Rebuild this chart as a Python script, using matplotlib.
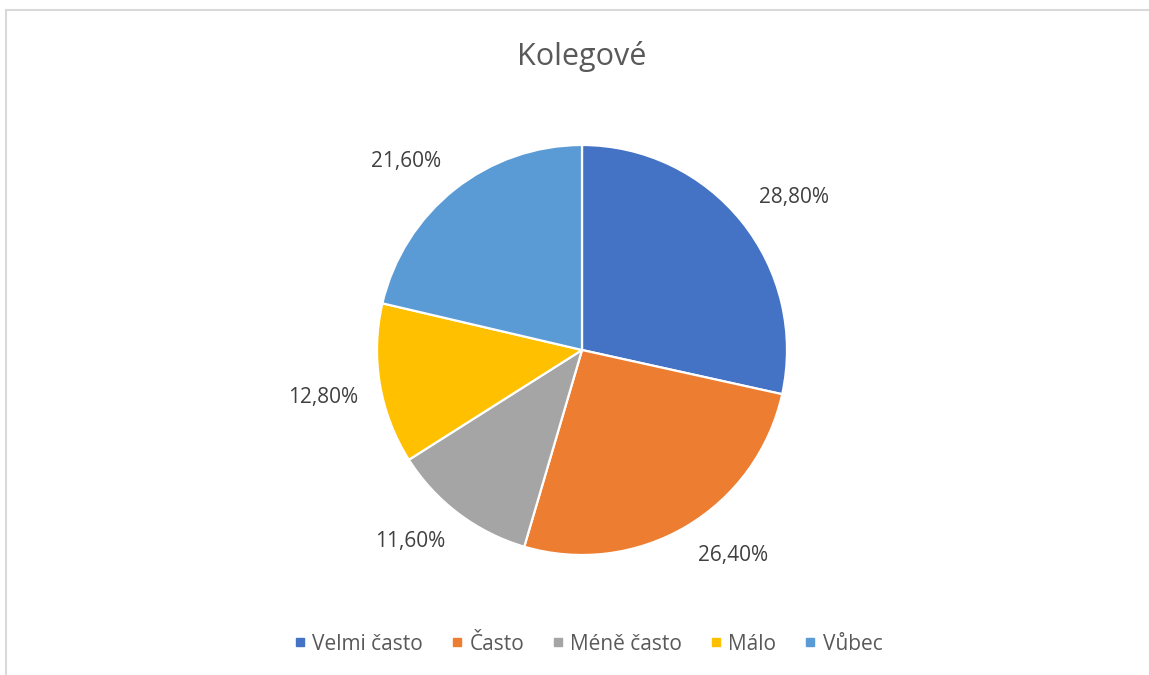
import numpy as np
import matplotlib
matplotlib.use("Agg")
import matplotlib.pyplot as plt
from matplotlib.lines import Line2D

categories = ["Velmi často", "Často", "Méně často", "Málo", "Vůbec"]
values = [28.8, 26.4, 11.6, 12.8, 21.6]
labels = ["28,80%", "26,40%", "11,60%", "12,80%", "21,60%"]
colors = ["#4472C4", "#ED7D31", "#A5A5A5", "#FFC000", "#5B9BD5"]
title = "Kolegové"

plt.rcParams['font.family'] = ['Open Sans', 'DejaVu Sans']

W, H = 1149, 675
fig = plt.figure(figsize=(W / 100, H / 100), dpi=100)
fig.patch.set_facecolor("white")

# pie axes: centre at (582, 350) px, radius 205 px
R = 205.0
cx, cy = 582.0, 350.0
half = 1.5
size = 2 * half * R
ax = fig.add_axes([(cx - size / 2) / W, (H - cy - size / 2) / H, size / W, size / H])

wedges, _ = ax.pie(values, colors=colors, startangle=90, counterclock=False,
                   radius=1.0, wedgeprops=dict(edgecolor="white", linewidth=1.6))
ax.set_xlim(-half, half)
ax.set_ylim(-half, half)
ax.set_aspect("equal")
ax.axis("off")

for w, lab in zip(wedges, labels):
    ang = np.deg2rad((w.theta1 + w.theta2) / 2)
    ux, uy = np.cos(ang), np.sin(ang)
    r1 = 1.11
    sx = 1 if ux >= 0 else -1
    sy = 1 if uy >= 0 else -1
    ax.annotate(lab, xy=(r1 * ux, r1 * uy), xytext=(sx * 35, sy * 10),
                textcoords="offset pixels", ha="center", va="center",
                fontsize=15, color="#404040")

fig.text(582 / W, (H - 65) / H, title, ha="center", va="baseline",
         fontsize=22, color="#595959")

handles = [Line2D([0], [0], marker="s", linestyle="none", markersize=6,
                  markerfacecolor=c, markeredgecolor=c) for c in colors]
leg = fig.legend(handles, categories, loc="center", bbox_to_anchor=(589 / W, (H - 644) / H),
                 ncol=5, frameon=False, fontsize=15, handlelength=0.4,
                 handletextpad=0.4, columnspacing=1.42, borderpad=0)
for t in leg.get_texts():
    t.set_color("#595959")

# border lines (top and left) of the chart area
fig.add_artist(Line2D([6 / W, 1.0], [(H - 10) / H, (H - 10) / H],
                      transform=fig.transFigure, color="#D9D9D9", linewidth=1.5))
fig.add_artist(Line2D([6 / W, 6 / W], [0, (H - 10) / H],
                      transform=fig.transFigure, color="#D9D9D9", linewidth=1.5))

fig.savefig("out.png", dpi=100, facecolor="white")
